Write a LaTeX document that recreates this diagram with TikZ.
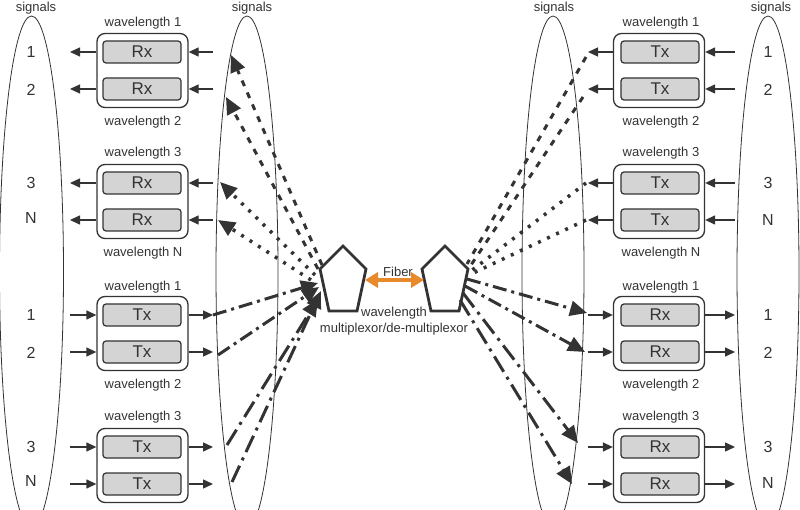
\documentclass[tikz,border=0pt]{standalone}
\usepackage{fontspec}
\setmainfont{Liberation Sans}
\usetikzlibrary{arrows.meta}
\definecolor{ink}{HTML}{333333}
\definecolor{unitgray}{HTML}{D4D4D4}
\definecolor{fiberorange}{HTML}{E8892C}
\tikzset{
  ring/.style = {draw = ink, line width = 0.8pt},
  rack/.style = {draw = ink, line width = 1.3pt, rounded corners = 8pt,
    fill = white, minimum width = 91pt, minimum height = 74pt},
  unit/.style = {draw = ink, line width = 1.2pt, rounded corners = 3pt,
    fill = unitgray, minimum width = 78pt, minimum height = 22pt,
    inner sep = 0pt, text = ink, font = \fontsize{17}{17}\selectfont},
  lbl/.style = {text = ink, inner sep = 0pt, font = \fontsize{13}{16}\selectfont},
  num/.style = {text = ink, inner sep = 0pt, font = \fontsize{16}{16}\selectfont},
  sig/.style = {draw = ink, line width = 1.3pt, -{Triangle[length=10pt,width=9pt]}},
  link/.style = {draw = ink, line width = 3pt},
  tip/.style = {-{Triangle[length=17pt,width=15pt]}},
  dashlink/.style = {link, dash pattern = on 6pt off 7pt},
  dotlink/.style = {link, line width = 3.5pt, dash pattern = on 3pt off 7pt},
  dotdash/.style = {link, dash pattern = on 14pt off 5pt on 3pt off 5pt},
  longdotdash/.style = {link, dash pattern = on 18pt off 6pt on 3pt off 6pt},
  mux/.style = {draw = ink, line width = 2.8pt, line join = miter},
  fiber/.style = {draw = fiberorange, line width = 4.5pt,
    {Triangle[length=13pt,width=15pt]}-{Triangle[length=13pt,width=15pt]}}
}
\begin{document}
\begin{tikzpicture}[x = 1pt, y = -1pt]
    \useasboundingbox (0,0) rectangle (800,510);
    \draw [ring]
      (31.5,272) ellipse [x radius = 32, y radius = 256]
      (247,272) ellipse [x radius = 31, y radius = 256]
      (553,272) ellipse [x radius = 31, y radius = 256]
      (768,272) ellipse [x radius = 31, y radius = 256];
    \node [lbl] (sigLo) at (36,8) {signals};
    \node [lbl] (sigLi) at (252,8) {signals};
    \node [lbl] (sigRi) at (554,8) {signals};
    \node [lbl] (sigRo) at (771,8) {signals};

    % left side
    \foreach \y/\u/\i in {52/Rx/1, 183/Rx/2, 315/Tx/3, 447/Tx/4} {
      \node [rack] (lrack\i) at (142.5,\y+18.5) {};
      \node [unit] (lua\i) at (142,\y) {\u};
      \node [unit] (lub\i) at (142,\y+37) {\u};
      \coordinate (loa\i) at (70,\y);
      \coordinate (lob\i) at (70,\y+37);
      \coordinate (lia\i) at (213,\y);
      \coordinate (lib\i) at (213,\y+37);
    }
    \foreach \i in {1,2} {
      \draw [sig] (lrack\i.west |- lua\i) -- (loa\i);
      \draw [sig] (lrack\i.west |- lub\i) -- (lob\i);
      \draw [sig] (lia\i) -- (lrack\i.east |- lua\i);
      \draw [sig] (lib\i) -- (lrack\i.east |- lub\i);
    }
    \foreach \i in {3,4} {
      \draw [sig] (loa\i) -- (lrack\i.west |- lua\i);
      \draw [sig] (lob\i) -- (lrack\i.west |- lub\i);
      \draw [sig] (lrack\i.east |- lua\i) -- (lia\i);
      \draw [sig] (lrack\i.east |- lub\i) -- (lib\i);
    }
    \foreach \y/\t [count = \k] in {23/1, 122/2, 153/3, 253/N, 287/1, 385/2, 417/3}
      \node [lbl] (lwl\k) at (143,\y) {wavelength \t};
    \foreach \y/\t [count = \k] in {52/1, 90/2, 183/3, 218/N, 315/1, 353/2, 447/3, 481/N}
      \node [num] (lnum\k) at (31,\y) {\t};

    % right side
    \foreach \y/\u/\i in {52/Tx/1, 183/Tx/2, 315/Rx/3, 447/Rx/4} {
      \node [rack] (rrack\i) at (659,\y+18.5) {};
      \node [unit] (rua\i) at (660,\y) {\u};
      \node [unit] (rub\i) at (660,\y+37) {\u};
      \coordinate (roa\i) at (735,\y);
      \coordinate (rob\i) at (735,\y+37);
      \coordinate (ria\i) at (588,\y);
      \coordinate (rib\i) at (588,\y+37);
    }
    \foreach \i in {1,2} {
      \draw [sig] (roa\i) -- (rrack\i.east |- rua\i);
      \draw [sig] (rob\i) -- (rrack\i.east |- rub\i);
      \draw [sig] (rrack\i.west |- rua\i) -- (ria\i);
      \draw [sig] (rrack\i.west |- rub\i) -- (rib\i);
    }
    \foreach \i in {3,4} {
      \draw [sig] (rrack\i.east |- rua\i) -- (roa\i);
      \draw [sig] (rrack\i.east |- rub\i) -- (rob\i);
      \draw [sig] (ria\i) -- (rrack\i.west |- rua\i);
      \draw [sig] (rib\i) -- (rrack\i.west |- rub\i);
    }
    \foreach \y/\t [count = \k] in {23/1, 122/2, 153/3, 253/N, 287/1, 385/2, 417/3}
      \node [lbl] (rwl\k) at (661,\y) {wavelength \t};
    \foreach \y/\t [count = \k] in {52/1, 90/2, 183/3, 220/N, 315/1, 353/2, 447/3, 483/N}
      \node [num] (rnum\k) at (768,\y) {\t};

    % multiplexors and fiber
    \draw [mux]
      (343,246) -- (366,269) -- (357,311) -- (329,311) -- (320,269) -- cycle
      (445,246) -- (468,269) -- (459,311) -- (431,311) -- (422,269) -- cycle;
    \coordinate (fibL) at (365,280);
    \coordinate (fibR) at (424,280);
    \draw [fiber] (fibL) -- (fibR);
    \node [lbl] (fiblbl) at (398,272) {Fiber};
    \node [lbl, align = center] (muxlbl) at (394,321) {wavelength\\multiplexor/de-multiplexor};

    % ports
    \coordinate (ml1) at (322,265);  \coordinate (le1) at (231,55);
    \coordinate (ml2) at (318,269);  \coordinate (le2) at (226,97);
    \coordinate (ml3) at (315,275);  \coordinate (le3) at (220,182);
    \coordinate (ml4) at (311,280);  \coordinate (le4) at (218,220);
    \coordinate (le5) at (213,315);  \coordinate (ml5) at (318,283);
    \coordinate (le6) at (218,355);  \coordinate (ml6) at (319,287);
    \coordinate (le7) at (227,445);  \coordinate (ml7) at (318,299);
    \coordinate (le8) at (232,482);  \coordinate (ml8) at (321,291);
    \coordinate (re1) at (586,57);   \coordinate (mr1) at (467,264);
    \coordinate (re2) at (583,97);   \coordinate (mr2) at (469,268);
    \coordinate (re3) at (586,183);  \coordinate (mr3) at (471,271);
    \coordinate (re4) at (586,220);  \coordinate (mr4) at (469,275);
    \coordinate (mr5) at (467,279);  \coordinate (re5) at (587,313);
    \coordinate (mr6) at (465,286);  \coordinate (re6) at (585,352);
    \coordinate (mr7) at (463,293);  \coordinate (re7) at (578,443);
    \coordinate (mr8) at (460,300);  \coordinate (re8) at (572,484);

    \draw [dashlink, tip] (ml1) -- (le1);
    \draw [dashlink, tip] (ml2) -- (le2);
    \draw [dotlink, tip] (ml3) -- (le3);
    \draw [dotlink, tip] (ml4) -- (le4);
    \draw [dotdash, tip] (le5) -- (ml5);
    \draw [dotdash, tip] (le6) -- (ml6);
    \draw [longdotdash, tip] (le7) -- (ml7);
    \draw [longdotdash, tip] (le8) -- (ml8);
    \draw [dashlink] (re1) -- (mr1);
    \draw [dashlink] (re2) -- (mr2);
    \draw [dotlink] (re3) -- (mr3);
    \draw [dotlink] (re4) -- (mr4);
    \draw [dotdash, tip] (mr5) -- (re5);
    \draw [dotdash, tip] (mr6) -- (re6);
    \draw [longdotdash, tip] (mr7) -- (re7);
    \draw [longdotdash, tip] (mr8) -- (re8);
  \end{tikzpicture}
\end{document}
